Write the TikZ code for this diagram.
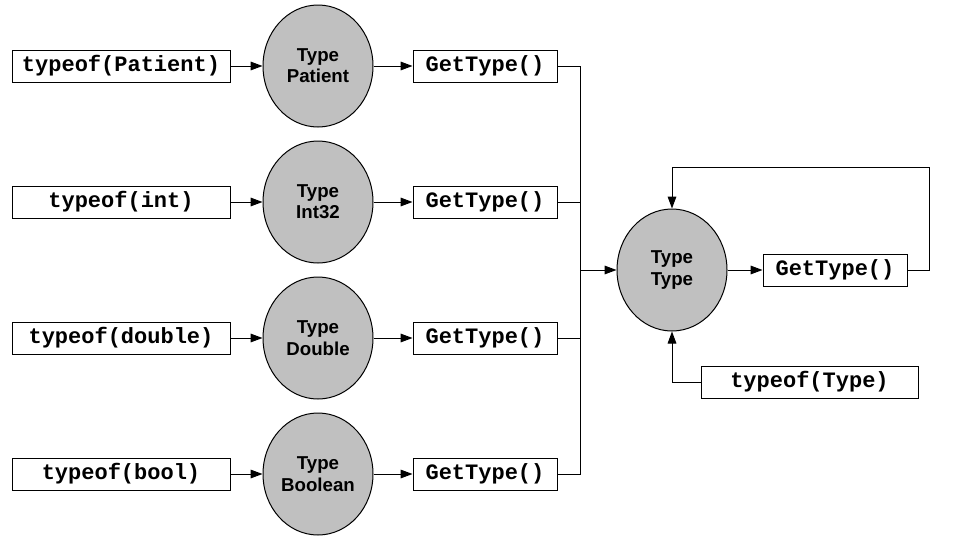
\documentclass[tikz,border=0pt]{standalone}
\usepackage{fontspec}
\setsansfont{Liberation Sans}
\setmonofont{Liberation Mono}
\usetikzlibrary{arrows.meta}
\definecolor{ellgray}{HTML}{C0C0C0}
\tikzset{
  codebox/.style={draw=black, line width=0.75pt, fill=white, minimum height=24pt, inner sep=0pt,
    font=\fontsize{16.5}{18}\ttfamily\bfseries},
  typeell/.style={draw=black, line width=0.75pt, fill=ellgray, ellipse, minimum width=82.5pt, minimum height=91.5pt,
    inner sep=0pt, align=center, font=\fontsize{14}{16}\sffamily\bfseries},
  arr/.style={line width=0.75pt, -{Triangle[length=9pt,width=6.5pt]}},
  wire/.style={line width=0.75pt}
}
\usetikzlibrary{shapes.geometric}
\begin{document}
\begin{tikzpicture}[x=0.75pt,y=-0.75pt]
\useasboundingbox (0,0) rectangle (954,543);
% left boxes
\node[codebox, minimum width=163.5pt] (t1) at (121,66) {typeof(Patient)};
\node[codebox, minimum width=163.5pt] (t2) at (121,202) {typeof(int)};
\node[codebox, minimum width=163.5pt] (t3) at (121,338) {typeof(double)};
\node[codebox, minimum width=163.5pt] (t4) at (121,474) {typeof(bool)};
% ellipses
\node[typeell] (e1) at (318,66) {Type\\Patient};
\node[typeell] (e2) at (318,202) {Type\\Int32};
\node[typeell] (e3) at (318,338) {Type\\Double};
\node[typeell] (e4) at (318,474) {Type\\Boolean};
% GetType boxes
\node[codebox, minimum width=108pt] (g1) at (485,66) {GetType()};
\node[codebox, minimum width=108pt] (g2) at (485,202) {GetType()};
\node[codebox, minimum width=108pt] (g3) at (485,338) {GetType()};
\node[codebox, minimum width=108pt] (g4) at (485,474) {GetType()};
% Type Type
\node[typeell] (tt) at (672,270) {Type\\Type};
\node[codebox, minimum width=108pt] (gr) at (835,270) {GetType()};
\node[codebox, minimum width=162.75pt] (tT) at (809.5,382) {typeof(Type)};
% coordinates
\coordinate (bus) at (580,270);
\coordinate (lp1) at (929,270);
\coordinate (lp2) at (929,167);
\coordinate (lp3) at (672,167);
% connectors
\foreach \i in {1,2,3,4}{
  \draw[arr] (t\i) -- (e\i);
  \draw[arr] (e\i) -- (g\i);
  \draw[wire] (g\i.east) -| (bus);
}
\draw[arr] (bus) -- (tt);
\draw[arr] (tt) -- (gr);
\draw[arr] (gr.east) -- (lp1) -- (lp2) -- (lp3) -- (tt.north);
\draw[arr] (tT.west) -| (tt.south);
\end{tikzpicture}
\end{document}
